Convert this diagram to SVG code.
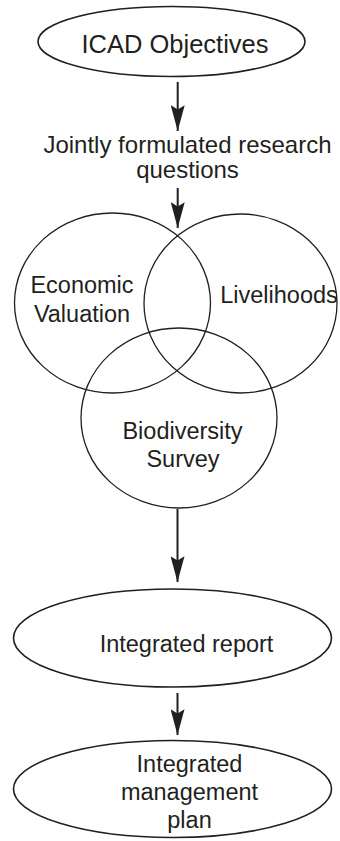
<svg xmlns="http://www.w3.org/2000/svg" width="340" height="841" viewBox="0 0 340 841">
<style>
.shape{fill:none;stroke:#231f20;stroke-width:1.6}
.circ{fill:none;stroke:#231f20;stroke-width:1.3}
.lbl{font-family:"Liberation Sans",Arial,sans-serif;font-size:23.5px;fill:#231f20;text-anchor:middle}
.conn{stroke:#231f20;stroke-width:2;fill:none}
</style>
<defs>
<marker id="arr" markerUnits="userSpaceOnUse" markerWidth="26" markerHeight="14" viewBox="0 0 24 13" refX="24" refY="6.5" orient="auto">
<path d="M0,0 L24,6.5 L0,13 L4,6.5 Z" fill="#231f20"/>
</marker>
</defs>
<rect width="340" height="841" fill="#fff"/>
<g id="connectors">
<path class="conn" d="M177.7,82 V131" marker-end="url(#arr)"/>
<path class="conn" d="M177.7,188 V228" marker-end="url(#arr)"/>
<path class="conn" d="M177.5,509 V582" marker-end="url(#arr)"/>
<path class="conn" d="M177.5,693 V735" marker-end="url(#arr)"/>
</g>
<g id="icad">
<ellipse class="shape" cx="171.5" cy="41.5" rx="133.5" ry="35"/>
<text class="lbl" x="175" y="53" style="font-size:25.5px">ICAD Objectives</text>
</g>
<g id="questions">
<text class="lbl" x="187.5" y="153" style="font-size:24px">Jointly formulated research</text>
<text class="lbl" x="187.5" y="178" style="font-size:24px">questions</text>
</g>
<g id="economic">
<ellipse class="circ" cx="112.5" cy="303" rx="98" ry="90"/>
<text class="lbl" x="82" y="293">Economic</text>
<text class="lbl" x="82" y="322">Valuation</text>
</g>
<g id="livelihoods">
<ellipse class="circ" cx="240.5" cy="303.5" rx="96.5" ry="89.5"/>
<text class="lbl" x="279" y="303">Livelihoods</text>
</g>
<g id="biodiversity">
<ellipse class="circ" cx="179" cy="418" rx="98" ry="90"/>
<text class="lbl" x="182.5" y="439">Biodiversity</text>
<text class="lbl" x="183" y="467">Survey</text>
</g>
<g id="report">
<ellipse class="shape" cx="172.5" cy="638" rx="159" ry="49"/>
<text class="lbl" x="186.5" y="652">Integrated report</text>
</g>
<g id="plan">
<ellipse class="shape" cx="172.5" cy="789" rx="159" ry="48.5"/>
<text class="lbl" x="189.5" y="772">Integrated</text>
<text class="lbl" x="189.5" y="800">management</text>
<text class="lbl" x="189.5" y="828">plan</text>
</g>
</svg>
